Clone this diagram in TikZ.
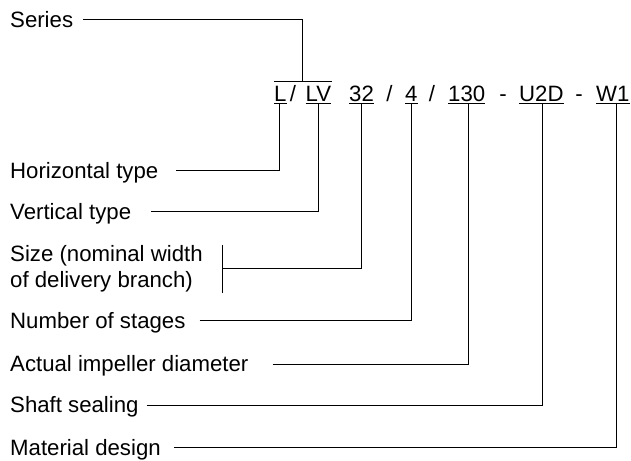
\documentclass[tikz,border=0pt]{standalone}
\usepackage{fontspec}
\setmainfont{Liberation Sans}
\usetikzlibrary{calc}
\begin{document}
\begin{tikzpicture}[x=1pt,y=-1pt,
  txt/.style={inner sep=0pt, font=\fontsize{22.2}{26.5}\selectfont},
  lbl/.style={txt, anchor=west, text height=14.7pt, text depth=0pt},
  code/.style={txt, anchor=base west},
  sepch/.style={txt, anchor=base},
  conn/.style={line width=1pt},
  uline/.style={line width=1.5pt}]
\useasboundingbox (0,0) rectangle (631,460);

% code line
\node[code] (cL)   at (274,101.7) {L};
\node[sepch] (s1)  at (293,101.7) {/};
\node[code] (cLV)  at (305.5,101.7) {LV};
\node[code] (c32)  at (349,101.7) {32};
\node[sepch] (s2)  at (389.5,101.7) {/};
\node[code] (c4)   at (405,101.7) {4};
\node[sepch] (s3)  at (432,101.7) {/};
\node[code] (c130) at (448,101.7) {130};
\node[sepch] (s4)  at (503,101.7) {-};
\node[code] (cU)   at (519,101.7) {U2D};
\node[sepch] (s5)  at (579,101.7) {-};
\node[code] (cW)   at (596,101.7) {W1};

\foreach \n in {cL,cLV,c32,c4,c130,cU,cW}
  \draw[uline] ([yshift=-1.8pt]\n.base west) -- ([yshift=-1.8pt]\n.base east);

% overline over L / LV
\coordinate (ovl) at (274,81.7);
\coordinate (ovr) at (331.7,81.7);
\coordinate (ovm) at (302,81.7);
\draw[conn] (ovl) -- (ovr);

% connector end points below the underlines
\coordinate (tL)   at (279,103.5);
\coordinate (tLV)  at (318,103.5);
\coordinate (t32)  at (361,103.5);
\coordinate (t4)   at (411,103.5);
\coordinate (t130) at (468,103.5);
\coordinate (tU)   at (542,103.5);
\coordinate (tW)   at (616,103.5);

% labels
\node[lbl] (series) at (10,20) {Series};
\node[lbl] (hor)    at (10,170.7) {Horizontal type};
\node[lbl] (ver)    at (10,211.7) {Vertical type};
\node[txt, anchor=north west, align=left] (size) at (10,245) {Size (nominal width\\of delivery branch)};
\node[lbl] (stages) at (10,320.7) {Number of stages};
\node[lbl] (actual) at (10,364) {Actual impeller diameter};
\node[lbl] (shaft)  at (10,405) {Shaft sealing};
\node[lbl] (mat)    at (10,447.7) {Material design};

% connectors
\draw[conn] ([xshift=10pt]series.east) -| (ovm);
\draw[conn] ([xshift=18pt]hor.east) -| (tL);
\draw[conn] ([xshift=20pt]ver.east) -| (tLV);
\draw[conn] ([xshift=20pt]size.north east) -- ([xshift=20pt]size.south east);
\draw[conn] ([xshift=20pt]size.east) -| (t32);
\draw[conn] ([xshift=14pt]stages.east) -| (t4);
\draw[conn] ([xshift=24pt]actual.east) -| (t130);
\draw[conn] ([xshift=8pt]shaft.east) -| (tU);
\draw[conn] ([xshift=13pt]mat.east) -| (tW);
\end{tikzpicture}
\end{document}
